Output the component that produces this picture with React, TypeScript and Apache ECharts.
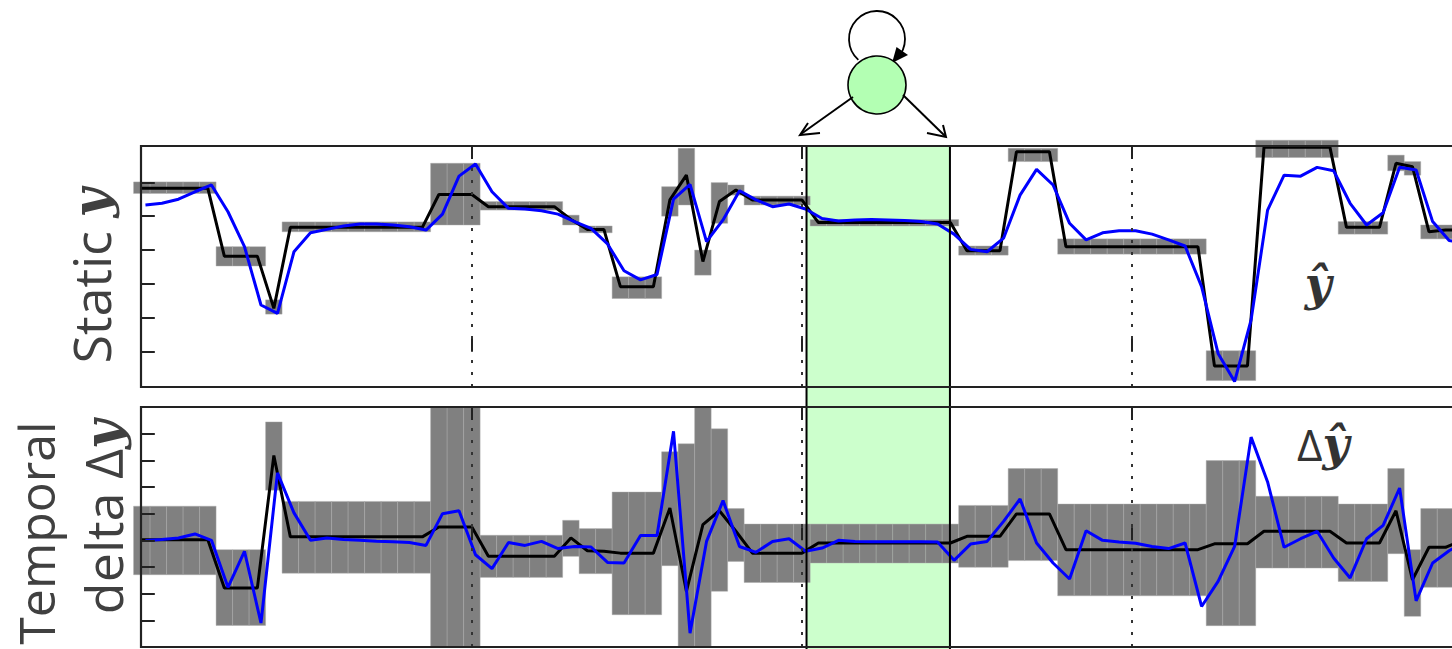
import React, { useEffect, useRef } from "react";
import * as echarts from "echarts";

// ---------------- data ----------------
const SAMPLES: number[] = Array.from({ length: 81 }, (_, i) => i);
const X_TICKS = [20, 40, 60];
const STATIC_TICKS = [0, 1, 2, 3, 4, 5];
const DELTA_TICKS = [-3, -2, -1, 0, 1, 2, 3, 4];
const BAND = [40.28, 48.97];
const BLUE_SHIFT = 0.22;

const STATIC_TRUE = [
  4.82, 4.82, 4.82, 4.82, 4.82, 2.82, 2.82, 2.82, 1.28, 3.67,
  3.67, 3.67, 3.67, 3.67, 3.67, 3.67, 3.67, 3.67, 4.64, 4.64,
  4.64, 4.28, 4.28, 4.28, 4.28, 4.28, 3.9, 3.61, 3.61, 1.92,
  1.92, 1.92, 4.48, 5.21, 2.66, 4.43, 4.77, 4.48, 4.48, 4.48,
  4.48, 3.81, 3.81, 3.81, 3.81, 3.81, 3.81, 3.81, 3.81, 3.81,
  2.98, 2.98, 2.98, 5.9, 5.9, 5.9, 3.1, 3.1, 3.1, 3.1,
  3.1, 3.1, 3.1, 3.1, 3.1, -0.42, -0.42, -0.42, 6.03, 6.03,
  6.03, 6.03, 6.03, 3.67, 3.67, 3.67, 5.56, 5.46, 3.54, 3.59,
  3.59,
];
const STATIC_PRED = [
  4.33, 4.38, 4.5, 4.72, 4.92, 4.13, 3.1, 1.38, 1.13, 2.95,
  3.51, 3.61, 3.71, 3.77, 3.77, 3.74, 3.69, 3.59, 4.06, 5.18,
  5.54, 4.72, 4.23, 4.21, 4.16, 4.06, 3.84, 3.64, 3.18, 2.39,
  2.12, 2.28, 4.5, 4.94, 3.25, 3.89, 4.75, 4.48, 4.28, 4.36,
  4.21, 3.93, 3.86, 3.89, 3.9, 3.89, 3.87, 3.84, 3.77, 3.47,
  3.02, 2.95, 3.35, 4.62, 5.38, 4.92, 3.79, 3.3, 3.51, 3.57,
  3.57, 3.47, 3.3, 3.12, 1.92, -0.05, -0.88, 0.94, 4.18, 5.21,
  5.18, 5.44, 5.34, 4.38, 3.74, 4.1, 5.44, 5.36, 3.84, 3.28,
  3.2,
];
const STATIC_LO = [
  4.67, 4.67, 4.67, 4.67, 4.67, 2.53, 2.53, 2.53, 1.11, 3.54,
  3.54, 3.54, 3.54, 3.54, 3.54, 3.54, 3.54, 3.54, 3.74, 3.74,
  3.74, 4.18, 4.18, 4.18, 4.18, 4.18, 3.74, 3.51, 3.51, 1.57,
  1.57, 1.57, 4.0, 4.33, 2.26, 3.79, 4.62, 4.33, 4.33, 4.33,
  4.33, 3.71, 3.71, 3.71, 3.71, 3.71, 3.71, 3.71, 3.71, 3.71,
  2.85, 2.85, 2.85, 5.61, 5.61, 5.61, 2.88, 2.88, 2.88, 2.88,
  2.88, 2.88, 2.88, 2.88, 2.88, -0.85, -0.85, -0.85, 5.73, 5.73,
  5.73, 5.73, 5.73, 3.47, 3.47, 3.47, 5.34, 5.21, 3.33, 3.33,
  3.33,
];
const STATIC_HI = [
  5.01, 5.01, 5.01, 5.01, 5.01, 3.1, 3.1, 3.1, 1.53, 3.83,
  3.83, 3.83, 3.83, 3.83, 3.83, 3.83, 3.83, 3.83, 5.56, 5.56,
  5.56, 4.43, 4.43, 4.43, 4.43, 4.43, 4.03, 3.71, 3.71, 2.21,
  2.21, 2.21, 4.87, 6.0, 3.0, 4.99, 4.92, 4.59, 4.59, 4.59,
  4.59, 3.9, 3.9, 3.9, 3.9, 3.9, 3.9, 3.9, 3.9, 3.9,
  3.12, 3.12, 3.12, 6.0, 6.0, 6.0, 3.33, 3.33, 3.33, 3.33,
  3.33, 3.33, 3.33, 3.33, 3.33, 0.03, 0.03, 0.03, 6.24, 6.24,
  6.24, 6.24, 6.24, 3.84, 3.84, 3.84, 5.8, 5.61, 3.74, 3.74,
  3.74,
];

const DELTA_TRUE = [
  0.02, 0.02, 0.02, 0.02, 0.02, -1.79, -1.79, -1.79, 3.18, 0.13,
  0.13, 0.13, 0.13, 0.13, 0.13, 0.13, 0.13, 0.13, 0.5, 0.5,
  0.5, -0.6, -0.6, -0.6, -0.6, -0.6, 0.09, -0.39, -0.41, -0.48,
  -0.48, -0.48, 1.21, -1.91, 0.59, 1.11, 0.34, -0.48, -0.48, -0.48,
  -0.48, -0.1, -0.1, -0.1, -0.1, -0.1, -0.1, -0.1, -0.1, -0.1,
  0.15, 0.15, 0.15, 0.99, 0.99, 0.99, -0.35, -0.35, -0.35, -0.35,
  -0.35, -0.35, -0.35, -0.35, -0.35, -0.13, -0.13, -0.13, 0.34, 0.34,
  0.34, 0.34, 0.34, -0.1, -0.1, -0.1, 1.11, -1.48, -0.26, -0.26,
  0.0,
];
const DELTA_PRED = [
  -0.01, 0.03, 0.09, 0.24, 0.0, -1.76, -0.41, -3.1, 2.53, 1.03,
  0.0, 0.09, 0.03, 0.0, -0.03, -0.05, -0.08, -0.19, 1.0, 1.11,
  -0.54, -1.06, -0.08, -0.19, -0.04, -0.31, -0.23, -0.25, -0.83, -0.85,
  0.18, 0.18, 4.09, -3.48, -0.04, 1.49, -0.23, -0.45, -0.04, 0.06,
  -0.41, -0.29, 0.0, -0.04, -0.05, -0.05, -0.05, -0.05, -0.06, -0.75,
  -0.14, -0.04, 0.71, 1.55, -0.1, -0.85, -1.45, 0.36, 0.0, -0.06,
  -0.11, -0.23, -0.31, -0.1, -2.48, -1.54, -0.23, 3.87, 2.19, -0.26,
  0.06, 0.34, -0.66, -1.41, 0.06, 0.56, 1.96, -2.27, -0.85, -0.39,
  -0.04,
];
const DELTA_LO = [
  -1.29, -1.29, -1.29, -1.29, -1.29, -3.19, -3.19, -3.19, 1.88, -1.23,
  -1.23, -1.23, -1.23, -1.23, -1.23, -1.23, -1.23, -1.23, -4.0, -4.0,
  -4.0, -1.39, -1.39, -1.39, -1.39, -1.39, -0.6, -1.25, -1.25, -2.79,
  -2.79, -2.79, -0.95, -4.0, -4.0, -1.91, -0.79, -1.58, -1.58, -1.58,
  -1.58, -0.85, -0.85, -0.85, -0.85, -0.85, -0.85, -0.85, -0.85, -0.85,
  -1.01, -1.01, -1.01, -0.76, -0.76, -0.76, -2.08, -2.08, -2.08, -2.08,
  -2.08, -2.08, -2.08, -2.08, -2.08, -3.2, -3.2, -3.2, -1.04, -1.04,
  -1.04, -1.04, -1.04, -1.54, -1.54, -1.54, -0.5, -2.85, -1.76, -1.76,
  -1.76,
];
const DELTA_HI = [
  1.28, 1.28, 1.28, 1.28, 1.28, -0.35, -0.35, -0.35, 4.44, 1.46,
  1.46, 1.46, 1.46, 1.46, 1.46, 1.46, 1.46, 1.46, 5.0, 5.0,
  5.0, 0.19, 0.19, 0.19, 0.19, 0.19, 0.75, 0.44, 0.44, 1.81,
  1.81, 1.81, 3.32, 3.62, 5.0, 4.18, 1.19, 0.61, 0.61, 0.61,
  0.61, 0.61, 0.61, 0.61, 0.61, 0.61, 0.61, 0.61, 0.61, 0.61,
  1.31, 1.31, 1.31, 2.69, 2.69, 2.69, 1.36, 1.36, 1.36, 1.36,
  1.36, 1.36, 1.36, 1.36, 1.36, 2.99, 2.99, 2.99, 1.65, 1.65,
  1.65, 1.65, 1.65, 1.36, 1.36, 1.36, 2.69, -0.35, 1.19, 1.19,
  1.19,
];

// ---------------- layout ----------------
const W = 1500;
const H = 649;
const GRID_LEFT = 141;
const GRID_RIGHT = 5;
const TOP1 = 146;
const H1 = 241;
const TOP2 = 407;
const H2 = 240;
const XMIN = -0.05;
const XMAX = 82;
const STATIC_MIN = -1.04;
const STATIC_MAX = 6.07;
const DELTA_MIN = -4;
const DELTA_MAX = 5;

const TEXT_COLOR = "#404040";
const BOX_FILL = "#808080";
const BAND_FILL = "#ccffcc";

function boxRender(params: any, api: any) {
  const x = api.value(0);
  const lo = api.value(1);
  const hi = api.value(2);
  const p0 = api.coord([x - 0.5, hi]);
  const p1 = api.coord([x + 0.5, lo]);
  return {
    type: "rect",
    shape: { x: p0[0], y: p0[1], width: p1[0] - p0[0], height: p1[1] - p0[1] },
    style: { fill: BOX_FILL, stroke: "rgba(170,170,170,0.55)", lineWidth: 0.8 },
  };
}

function xAxisDef(gridIndex: number, position: string) {
  return {
    type: "value",
    gridIndex,
    position,
    min: XMIN,
    max: XMAX,
    z: 20,
    axisLine: { show: false },
    axisLabel: { show: false },
    splitLine: { show: false },
    axisTick: {
      show: true,
      inside: true,
      length: 13,
      customValues: X_TICKS,
      lineStyle: { color: "#222", width: 2 },
    },
  };
}

function yAxisDef(gridIndex: number, min: number, max: number, ticks: number[]) {
  return {
    type: "value",
    gridIndex,
    min,
    max,
    z: 20,
    axisLine: { show: false },
    axisLabel: { show: false },
    splitLine: { show: false },
    axisTick: {
      show: true,
      inside: true,
      length: 13,
      customValues: ticks,
      lineStyle: { color: "#222", width: 2 },
    },
  };
}

const dottedMarkLine = {
  silent: true,
  symbol: "none",
  label: { show: false },
  lineStyle: { color: "#333", type: [3, 9], width: 2 },
  data: X_TICKS.map((v) => ({ xAxis: v })),
};

function buildOption(): any {
  const staticBoxes = SAMPLES.map((x, i) => [x, STATIC_LO[i], STATIC_HI[i]]);
  const deltaBoxes = SAMPLES.map((x, i) => [x, DELTA_LO[i], DELTA_HI[i]]);
  const plotWidth = W - GRID_LEFT - GRID_RIGHT;

  const labelFont = {
    fontFamily: "'Open Sans', 'DejaVu Sans', sans-serif",
    fontSize: 52,
    fontWeight: "normal",
    fill: TEXT_COLOR,
  };
  const mathY = {
    fontFamily: "'DejaVu Serif', 'Liberation Serif', serif",
    fontWeight: "bold",
    fontStyle: "italic",
    fontSize: 50,
    fill: TEXT_COLOR,
  };

  return {
    animation: false,
    grid: [
      { left: GRID_LEFT, right: GRID_RIGHT, top: TOP1, height: H1 },
      { left: GRID_LEFT, right: GRID_RIGHT, top: TOP2, height: H2 },
    ],
    xAxis: [
      xAxisDef(0, "bottom"),
      xAxisDef(0, "top"),
      xAxisDef(1, "bottom"),
      xAxisDef(1, "top"),
    ],
    yAxis: [
      yAxisDef(0, STATIC_MIN, STATIC_MAX, STATIC_TICKS),
      yAxisDef(1, DELTA_MIN, DELTA_MAX, DELTA_TICKS),
    ],
    series: [
      {
        type: "custom",
        name: "window",
        xAxisIndex: 0,
        yAxisIndex: 0,
        z: 1,
        clip: false,
        silent: true,
        data: [BAND],
        renderItem: (params: any, api: any) => {
          const x0 = api.coord([api.value(0), STATIC_MAX])[0];
          const x1 = api.coord([api.value(1), STATIC_MAX])[0];
          const yTop = api.coord([0, STATIC_MAX])[1];
          const yBot = api.getHeight();
          return {
            type: "rect",
            shape: { x: x0, y: yTop, width: x1 - x0, height: yBot - yTop },
            style: { fill: BAND_FILL },
          };
        },
      },
      {
        type: "custom",
        name: "static range",
        xAxisIndex: 0,
        yAxisIndex: 0,
        z: 2,
        clip: false,
        silent: true,
        encode: { x: 0, y: [1, 2] },
        data: staticBoxes,
        renderItem: boxRender,
      },
      {
        type: "line",
        name: "static y",
        xAxisIndex: 0,
        yAxisIndex: 0,
        z: 3,
        showSymbol: false,
        silent: true,
        lineStyle: { color: "#000", width: 3 },
        data: SAMPLES.map((x, i) => [x, STATIC_TRUE[i]]),
        markLine: dottedMarkLine,
      },
      {
        type: "line",
        name: "static y hat",
        xAxisIndex: 0,
        yAxisIndex: 0,
        z: 4,
        showSymbol: false,
        silent: true,
        lineStyle: { color: "#0000ff", width: 3 },
        data: SAMPLES.map((x, i) => [x + BLUE_SHIFT, STATIC_PRED[i]]),
      },
      {
        type: "custom",
        name: "delta range",
        xAxisIndex: 2,
        yAxisIndex: 1,
        z: 2,
        clip: false,
        silent: true,
        encode: { x: 0, y: [1, 2] },
        data: deltaBoxes,
        renderItem: boxRender,
      },
      {
        type: "line",
        name: "delta y",
        xAxisIndex: 2,
        yAxisIndex: 1,
        z: 3,
        showSymbol: false,
        silent: true,
        lineStyle: { color: "#000", width: 3 },
        data: SAMPLES.map((x, i) => [x, DELTA_TRUE[i]]),
        markLine: dottedMarkLine,
      },
      {
        type: "line",
        name: "delta y hat",
        xAxisIndex: 2,
        yAxisIndex: 1,
        z: 4,
        showSymbol: false,
        silent: true,
        lineStyle: { color: "#0000ff", width: 3 },
        data: SAMPLES.map((x, i) => [x + BLUE_SHIFT, DELTA_PRED[i]]),
      },
      {
        type: "custom",
        name: "window edges",
        xAxisIndex: 0,
        yAxisIndex: 0,
        z: 6,
        clip: false,
        silent: true,
        data: [BAND],
        renderItem: (params: any, api: any) => {
          const x0 = api.coord([api.value(0), STATIC_MAX])[0];
          const x1 = api.coord([api.value(1), STATIC_MAX])[0];
          const yTop = api.coord([0, STATIC_MAX])[1];
          const yBot = api.getHeight();
          return {
            type: "group",
            children: [
              { type: "line", shape: { x1: x0, y1: yTop, x2: x0, y2: yBot }, style: { stroke: "#000", lineWidth: 2 } },
              { type: "line", shape: { x1: x1, y1: yTop, x2: x1, y2: yBot }, style: { stroke: "#000", lineWidth: 2 } },
            ],
          };
        },
      },
    ],
    graphic: [
      // frames
      { type: "rect", z: 100, silent: true, shape: { x: GRID_LEFT, y: TOP1, width: plotWidth, height: H1 }, style: { fill: "none", stroke: "#222", lineWidth: 2.2 } },
      { type: "rect", z: 100, silent: true, shape: { x: GRID_LEFT, y: TOP2, width: plotWidth, height: H2 }, style: { fill: "none", stroke: "#222", lineWidth: 2.2 } },
      // state diagram
      { type: "arc", z: 100, silent: true, shape: { cx: 877, cy: 39, r: 28, startAngle: 2.3, endAngle: 0.8 + Math.PI * 2, clockwise: true }, style: { fill: "none", stroke: "#000", lineWidth: 1.8 } },
      { type: "polygon", z: 100, silent: true, shape: { points: [[892, 63], [896.5, 47], [908, 55]] }, style: { fill: "#000" } },
      { type: "circle", z: 100, silent: true, shape: { cx: 877, cy: 85, r: 29 }, style: { fill: "#b3ffb3", stroke: "#000", lineWidth: 1.6 } },
      { type: "line", z: 100, silent: true, shape: { x1: 853, y1: 97, x2: 801, y2: 134 }, style: { stroke: "#000", lineWidth: 2 } },
      { type: "polyline", z: 100, silent: true, shape: { points: [[808, 123], [800, 135], [820, 133]] }, style: { fill: "none", stroke: "#000", lineWidth: 2 } },
      { type: "line", z: 100, silent: true, shape: { x1: 903, y1: 95, x2: 945, y2: 136 }, style: { stroke: "#000", lineWidth: 2 } },
      { type: "polyline", z: 100, silent: true, shape: { points: [[927, 133], [946, 137], [943, 125]] }, style: { fill: "none", stroke: "#000", lineWidth: 2 } },
      // axis titles (rotated)
      {
        type: "text", z: 100, silent: true, x: 90, y: 276, rotation: Math.PI / 2,
        style: { text: "Static {m|y}", ...labelFont, align: "center", verticalAlign: "middle", textAlign: "center", textVerticalAlign: "middle", rich: { m: mathY } },
      },
      {
        type: "text", z: 100, silent: true, x: 36, y: 533, rotation: Math.PI / 2,
        style: { text: "Temporal", ...labelFont, fontSize: 50, align: "center", verticalAlign: "middle", textAlign: "center", textVerticalAlign: "middle" },
      },
      {
        type: "text", z: 100, silent: true, x: 102, y: 517, rotation: Math.PI / 2,
        style: { text: "delta Δ{m|y}", ...labelFont, align: "center", verticalAlign: "middle", textAlign: "center", textVerticalAlign: "middle", rich: { m: mathY } },
      },
      // in-plot annotations
      {
        type: "text", z: 100, silent: true, x: 1318, y: 284,
        style: { text: "ŷ", fontFamily: "'DejaVu Serif', serif", fontWeight: "bold", fontStyle: "italic", fontSize: 46, fill: "#333", align: "center", verticalAlign: "middle", textAlign: "center", textVerticalAlign: "middle" },
      },
      {
        type: "text", z: 100, silent: true, x: 1323, y: 444,
        style: {
          text: "Δ{m|ŷ}", fontFamily: "'Open Sans', 'DejaVu Sans', sans-serif", fontSize: 44, fill: "#333",
          align: "center", verticalAlign: "middle", textAlign: "center", textVerticalAlign: "middle",
          rich: { m: { fontFamily: "'DejaVu Serif', serif", fontWeight: "bold", fontStyle: "italic", fontSize: 46, fill: "#333" } },
        },
      },
    ],
  };
}

export default function App() {
  const ref = useRef<HTMLDivElement>(null);
  useEffect(() => {
    if (!ref.current) return;
    const chart = echarts.init(ref.current, undefined, { renderer: "svg" });
    chart.setOption(buildOption());
    return () => chart.dispose();
  }, []);
  return (
    <div style={{ position: "fixed", left: 0, top: 0, width: 1452, height: H, overflow: "hidden", background: "#fff" }}>
      <div ref={ref} style={{ width: W, height: H }} />
    </div>
  );
}
